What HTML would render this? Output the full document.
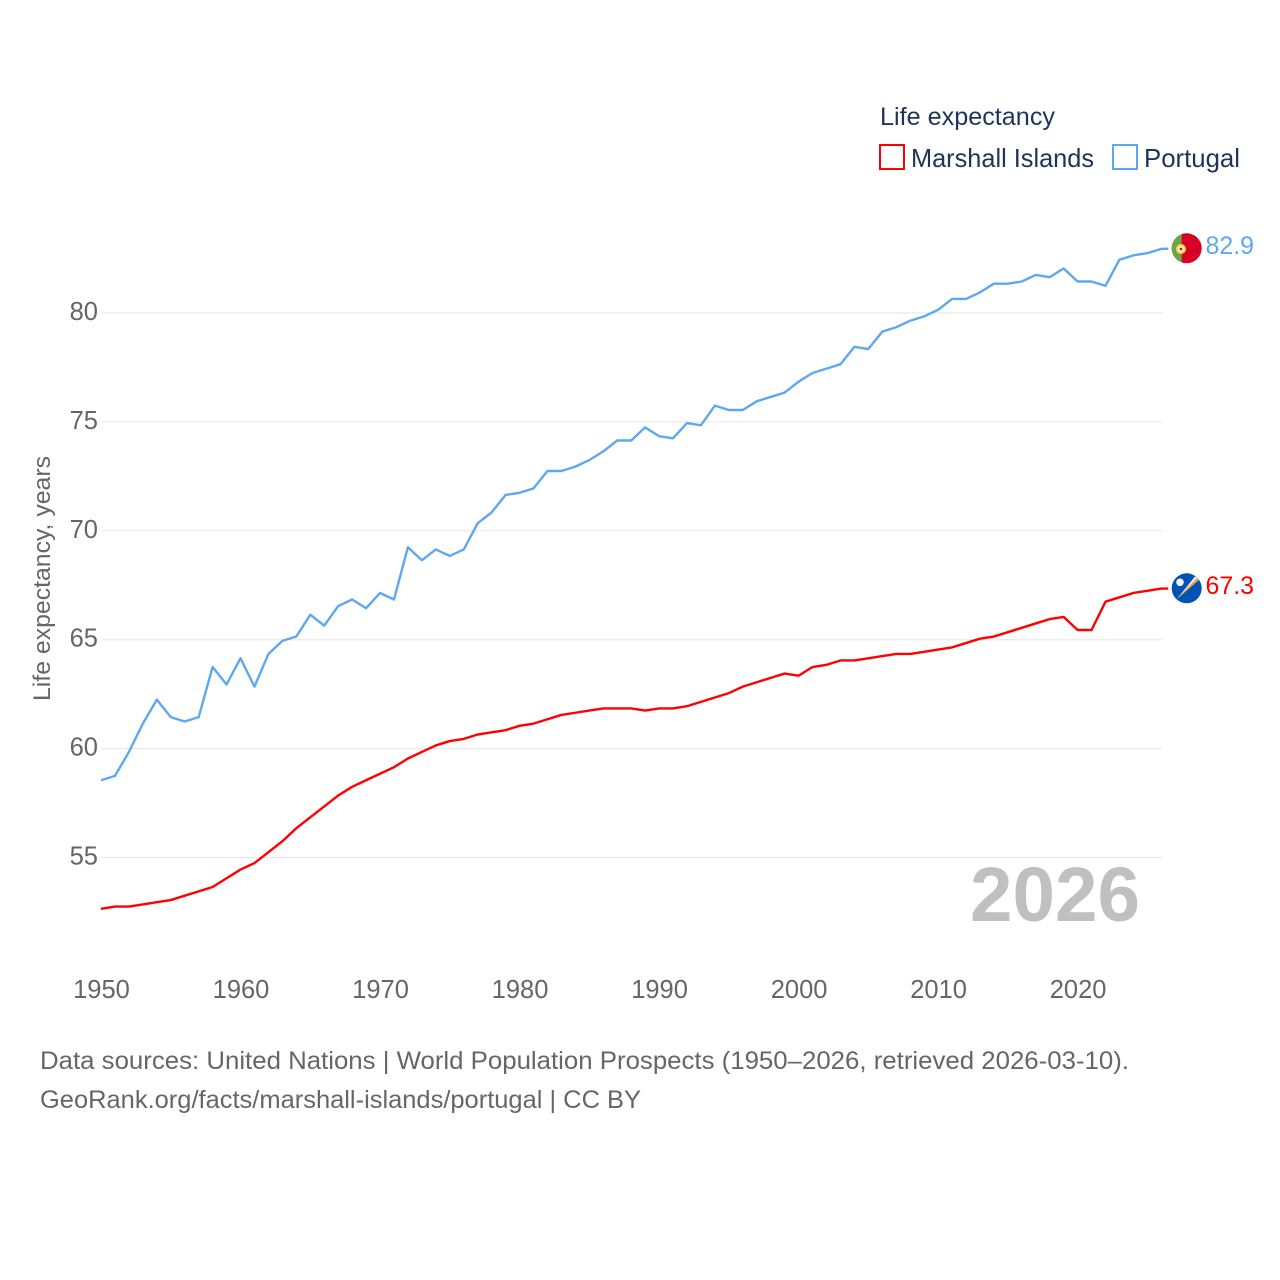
<!DOCTYPE html>
<html lang="en">
<head>
<meta charset="utf-8">
<title>Life expectancy: Marshall Islands vs Portugal</title>
<style>
html,body{margin:0;padding:0;background:#fff;}
svg{display:block;font-family:"Liberation Sans",sans-serif;}
</style>
</head>
<body>
<svg id="chart" xmlns="http://www.w3.org/2000/svg" width="1280" height="1280" viewBox="0 0 1280 1280">
  <rect x="0" y="0" width="1280" height="1280" fill="#fff"/>
  <g id="grid"></g>
  <g id="y-ticks"></g>
  <g id="x-ticks"></g>
  <text transform="translate(50,701) rotate(-90)" font-size="24" fill="#666" textLength="245" lengthAdjust="spacingAndGlyphs">Life expectancy, years</text>
  <text x="970" y="921" font-size="77" font-weight="bold" fill="#c0c0c0" textLength="170" lengthAdjust="spacingAndGlyphs">2026</text>
  <g id="series" transform="translate(-1,-1)"></g>

  <g>
    <text x="880" y="125" font-size="25" fill="#1d3557" textLength="175" lengthAdjust="spacingAndGlyphs">Life expectancy</text>
    <rect x="880" y="145" width="24" height="24" fill="#fff" stroke="#ff0000" stroke-width="2"/>
    <text x="911" y="167" font-size="26" fill="#1d3557" textLength="183" lengthAdjust="spacingAndGlyphs">Marshall Islands</text>
    <rect x="1113" y="145" width="24" height="24" fill="#fff" stroke="#5ea8ef" stroke-width="2"/>
    <text x="1144" y="167" font-size="26" fill="#1d3557" textLength="96" lengthAdjust="spacingAndGlyphs">Portugal</text>
  </g>

  <defs>
    <clipPath id="clip-pt"><circle cx="1186.7" cy="248.3" r="15"/></clipPath>
    <clipPath id="clip-mh"><circle cx="1186.7" cy="588.3" r="15"/></clipPath>
  </defs>
  <g clip-path="url(#clip-pt)">
    <rect x="1171" y="232" width="32" height="32" fill="#d80027"/>
    <rect x="1171" y="232" width="10.7" height="32" fill="#6da544"/>
    <circle cx="1181" cy="249" r="5" fill="#ffda44"/>
    <circle cx="1181" cy="249" r="2.8" fill="#fff"/>
    <circle cx="1181" cy="249" r="1.4" fill="#d80027"/>
  </g>
  <g clip-path="url(#clip-mh)">
    <rect x="1171" y="572" width="32" height="32" fill="#0052b4"/>
    <polygon points="1176.5,599.5 1197.5,577.5 1199.5,579.5" fill="#f5a623"/>
    <polygon points="1176.5,599.5 1195,576.5 1197.5,577.5" fill="#f0f0f0"/>
    <circle cx="1180" cy="582.3" r="3.8" fill="#f0f0f0"/>
  </g>
  <text id="label-pt" x="1205.5" y="254" font-size="25" fill="#5ea8ef" textLength="48.5" lengthAdjust="spacingAndGlyphs">82.9</text>
  <text id="label-mh" x="1205.5" y="594" font-size="25" fill="#ff0000" textLength="48.5" lengthAdjust="spacingAndGlyphs">67.3</text>

  <g>
    <text x="40" y="1069" font-size="25" fill="#666" textLength="1089" lengthAdjust="spacingAndGlyphs">Data sources: United Nations | World Population Prospects (1950–2026, retrieved 2026-03-10).</text>
    <text x="40" y="1108" font-size="25" fill="#666" textLength="601" lengthAdjust="spacingAndGlyphs">GeoRank.org/facts/marshall-islands/portugal | CC BY</text>
  </g>
</svg>
<script>
const startYear = 1950;
const yTickValues = [55, 60, 65, 70, 75, 80];
const xTickValues = [1950, 1960, 1970, 1980, 1990, 2000, 2010, 2020];
const portugalValues = [58.5,58.7,59.8,61.1,62.2,61.4,61.2,61.4,63.7,62.9,64.1,62.8,64.3,64.9,65.1,66.1,65.6,66.5,66.8,66.4,67.1,66.8,69.2,68.6,69.1,68.8,69.1,70.3,70.8,71.6,71.7,71.9,72.7,72.7,72.9,73.2,73.6,74.1,74.1,74.7,74.3,74.2,74.9,74.8,75.7,75.5,75.5,75.9,76.1,76.3,76.8,77.2,77.4,77.6,78.4,78.3,79.1,79.3,79.6,79.8,80.1,80.6,80.6,80.9,81.3,81.3,81.4,81.7,81.6,82.0,81.4,81.4,81.2,82.4,82.6,82.7,82.9];
const marshallValues = [52.6,52.7,52.7,52.8,52.9,53.0,53.2,53.4,53.6,54.0,54.4,54.7,55.2,55.7,56.3,56.8,57.3,57.8,58.2,58.5,58.8,59.1,59.5,59.8,60.1,60.3,60.4,60.6,60.7,60.8,61.0,61.1,61.3,61.5,61.6,61.7,61.8,61.8,61.8,61.7,61.8,61.8,61.9,62.1,62.3,62.5,62.8,63.0,63.2,63.4,63.3,63.7,63.8,64.0,64.0,64.1,64.2,64.3,64.3,64.4,64.5,64.6,64.8,65.0,65.1,65.3,65.5,65.7,65.9,66.0,65.4,65.4,66.7,66.9,67.1,67.2,67.3];

const NS = 'http://www.w3.org/2000/svg';
function xScale(year) { return 102 + (year - 1950) * (1078.6 - 102) / 70; }
function yScale(v) { return 313 - (v - 80) * (857.5 - 313) / 25; }

const grid = document.getElementById('grid');
const yTicks = document.getElementById('y-ticks');
yTickValues.forEach(function (v) {
  const line = document.createElementNS(NS, 'line');
  
  
  line.setAttribute('x1', 102);
  line.setAttribute('x2', 1162);
  line.setAttribute('y1', yScale(v));
  line.setAttribute('y2', yScale(v));
  line.setAttribute('stroke', '#e6e6e6');
  line.setAttribute('stroke-width', 1);
  grid.appendChild(line);
  const t = document.createElementNS(NS, 'text');
  
  
  t.setAttribute('x', 98);
  t.setAttribute('y', yScale(v) + 7);
  t.setAttribute('text-anchor', 'end');
  t.setAttribute('font-size', 25.5);
  t.setAttribute('fill', '#666');
  t.textContent = v;
  yTicks.appendChild(t);
});

const xTicks = document.getElementById('x-ticks');
xTickValues.forEach(function (y) {
  const t = document.createElementNS(NS, 'text');
  
  
  t.setAttribute('x', xScale(y) - 0.5);
  t.setAttribute('y', 998);
  t.setAttribute('text-anchor', 'middle');
  t.setAttribute('font-size', 25.5);
  t.setAttribute('fill', '#666');
  t.textContent = y;
  xTicks.appendChild(t);
});

function linePoints(values) {
  const pts = values.map(function (v, i) {
    return xScale(startYear + i).toFixed(2) + ',' + yScale(v).toFixed(2);
  });
  const lastY = yScale(values[values.length - 1]).toFixed(2);
  pts.push((xScale(startYear + values.length - 1) + 7).toFixed(2) + ',' + lastY);
  return pts.join(' ');
}

const series = document.getElementById('series');
const marshallLine = document.createElementNS(NS, 'polyline');


marshallLine.setAttribute('points', linePoints(marshallValues));
marshallLine.setAttribute('fill', 'none');
marshallLine.setAttribute('stroke', '#ff0000');
marshallLine.setAttribute('stroke-width', 2.4);
marshallLine.setAttribute('stroke-linejoin', 'round');
series.appendChild(marshallLine);

const portugalLine = document.createElementNS(NS, 'polyline');


portugalLine.setAttribute('points', linePoints(portugalValues));
portugalLine.setAttribute('fill', 'none');
portugalLine.setAttribute('stroke', '#5ea8ef');
portugalLine.setAttribute('stroke-width', 2.4);
portugalLine.setAttribute('stroke-linejoin', 'round');
series.appendChild(portugalLine);
</script>
</body>
</html>
